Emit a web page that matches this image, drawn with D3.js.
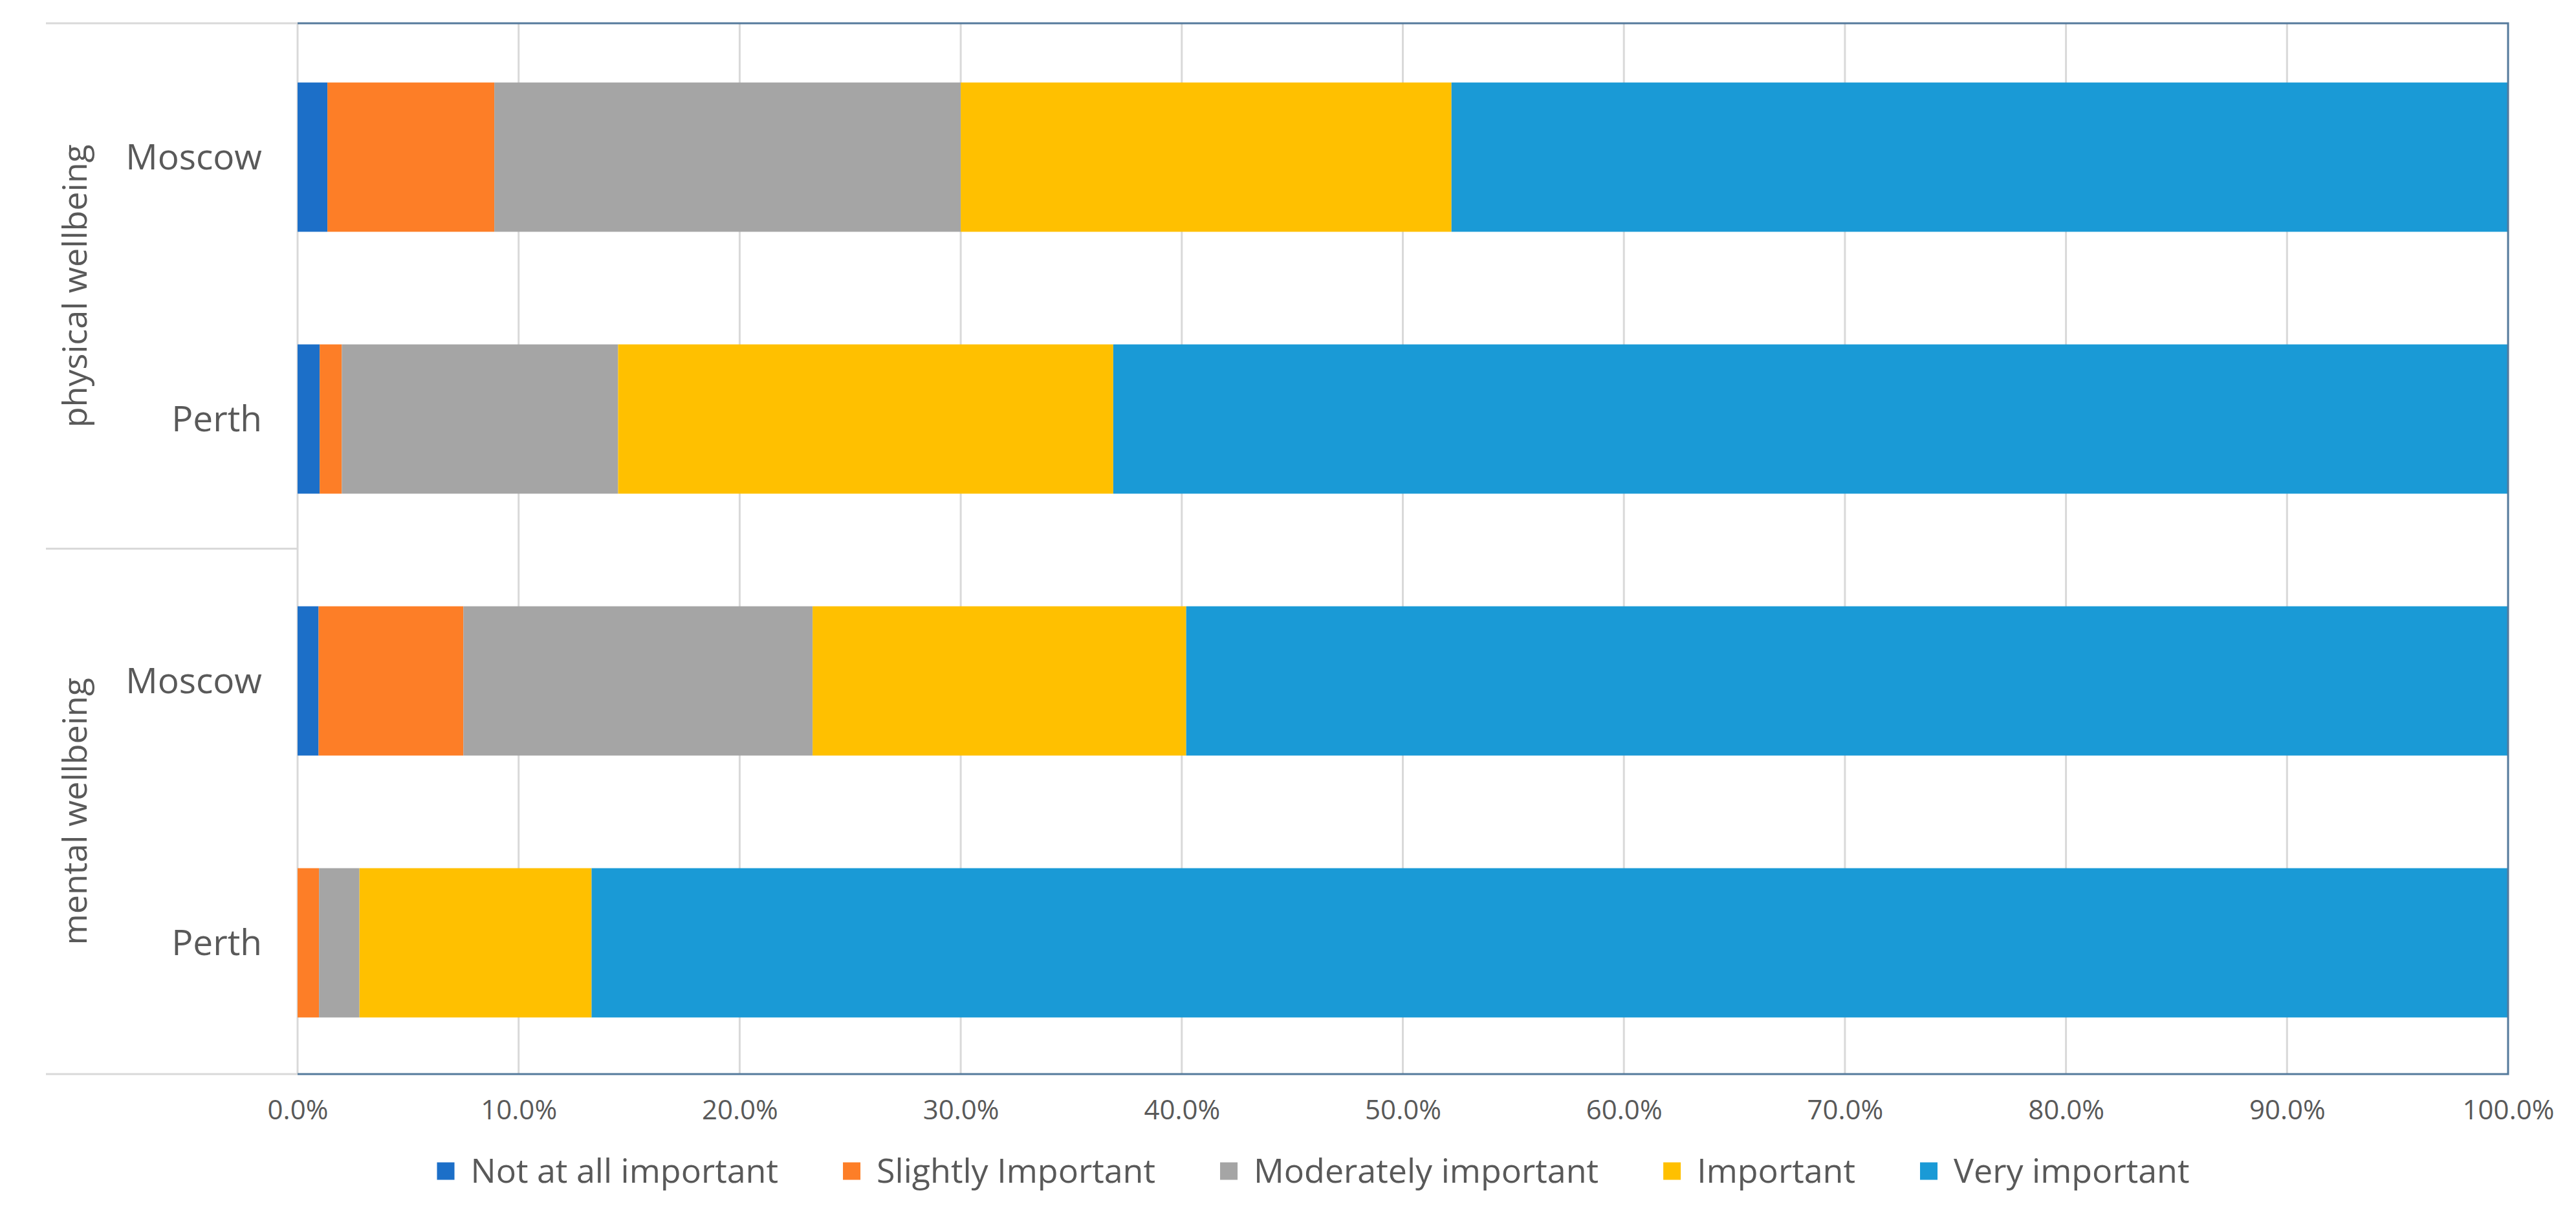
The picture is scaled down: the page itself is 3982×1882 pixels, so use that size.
<!DOCTYPE html>
<html>
<head>
<meta charset="utf-8">
<script src="https://cdn.jsdelivr.net/npm/d3@7"></script>
<style>
  body { margin: 0; background: #fff; }
  svg { display: block; }
  text { font-family: "Open Sans", "Noto Sans", sans-serif; fill: #595959; }
</style>
</head>
<body>
<script>
// stacked 100% bars, two groups x two cities

const groups = ['physical wellbeing', 'mental wellbeing'];
const cities = ['Moscow', 'Perth'];
const levels = ['Not at all important', 'Slightly Important', 'Moderately important', 'Important', 'Very important'];
const levelColors = ['#1c6fc8', '#fd7e27', '#a5a5a5', '#ffc000', '#1a9ad6'];
const xTickValues = [0, 0.1, 0.2, 0.3, 0.4, 0.5, 0.6, 0.7, 0.8, 0.9, 1.0];

// shares in % per row, order: physical Moscow, physical Perth, mental Moscow, mental Perth
const notAtAll   = [1.35, 1.0, 0.95, 0.0];
const slightly   = [7.55, 1.0, 6.55, 0.97];
const moderately = [21.1, 12.5, 15.8, 1.83];
const important  = [22.2, 22.4, 16.9, 10.5];
const veryImp    = [47.8, 63.1, 59.8, 86.7];

const rows = [];
groups.forEach((g, gi) => cities.forEach((c, ci) => {
  const i = gi * cities.length + ci;
  rows.push({
    key: g + '|' + c, group: g, city: c,
    [levels[0]]: notAtAll[i] / 100,
    [levels[1]]: slightly[i] / 100,
    [levels[2]]: moderately[i] / 100,
    [levels[3]]: important[i] / 100,
    [levels[4]]: veryImp[i] / 100
  });
}));

const svgWidth = 3982, svgHeight = 1882;
const plotLeft = 460, plotRight = 3877, plotTop = 36, plotBottom = 1661;
const catLeft = 71;

const svg = d3.select('body').append('svg')
  .attr('width', svgWidth)
  .attr('height', svgHeight);

const xScale = d3.scaleLinear().domain([0, 1]).range([plotLeft, plotRight]);
const yScale = d3.scaleBand()
  .domain(rows.map(d => d.key))
  .range([40.5, 1660.5])
  .paddingInner(0.43)
  .paddingOuter(0.215);
const color = d3.scaleOrdinal().domain(levels).range(levelColors);

// gridlines
svg.append('g')
  .selectAll('line')
  .data(xTickValues.slice(1, -1))
  .enter()
  .append('line')
  .attr('x1', d => xScale(d)).attr('x2', d => xScale(d))
  .attr('y1', plotTop).attr('y2', plotBottom)
  .attr('stroke', '#d9d9d9')
  .attr('stroke-width', 3);

// left edge of plot + category separators
svg.append('line')
  .attr('x1', plotLeft).attr('x2', plotLeft).attr('y1', plotTop).attr('y2', plotBottom)
  .attr('stroke', '#d9d9d9').attr('stroke-width', 3);

const groupBounds = [plotTop, (plotTop + plotBottom) / 2, plotBottom];
svg.append('g')
  .selectAll('line')
  .data(groupBounds)
  .enter()
  .append('line')
  .attr('x1', catLeft).attr('x2', plotLeft)
  .attr('y1', d => d).attr('y2', d => d)
  .attr('stroke', '#d9d9d9')
  .attr('stroke-width', 3);

// bars
const stacked = d3.stack().keys(levels)(rows);
svg.append('g')
  .selectAll('g')
  .data(stacked)
  .enter()
  .append('g')
  .attr('fill', d => color(d.key))
  .selectAll('rect')
  .data(d => d)
  .enter()
  .append('rect')
  .attr('x', d => xScale(d[0]))
  .attr('width', d => xScale(d[1]) - xScale(d[0]))
  .attr('y', d => yScale(d.data.key))
  .attr('height', yScale.bandwidth());

// frame: top, right, bottom in blue-grey
svg.append('path')
  .attr('d', `M${plotLeft},${plotTop}H${plotRight}V${plotBottom}H${plotLeft}`)
  .attr('fill', 'none')
  .attr('stroke', '#557a9c')
  .attr('stroke-width', 3);

// x axis
const xAxis = d3.axisBottom(xScale)
  .tickValues(xTickValues)
  .tickFormat(d3.format('.1%'))
  .tickSize(0)
  .tickPadding(40);
const gx = svg.append('g')
  .attr('transform', `translate(0,${plotBottom})`)
  .call(xAxis);
gx.select('.domain').remove();
gx.selectAll('text')
  .attr('font-family', '"Liberation Sans Narrow", "DejaVu Sans Condensed", "Open Sans", sans-serif')
  .attr('font-size', 42)
  .attr('fill', '#595959');

// city labels
svg.append('g')
  .selectAll('text')
  .data(rows)
  .enter()
  .append('text')
  .attr('x', 405)
  .attr('y', d => yScale(d.key) + yScale.bandwidth() / 2)
  .attr('dy', '0.35em')
  .attr('text-anchor', 'end')
  .attr('font-size', 55)
  .text(d => d.city);

// group labels (rotated)
svg.append('g')
  .selectAll('text')
  .data(groups)
  .enter()
  .append('text')
  .attr('transform', (d, i) => `translate(116,${(groupBounds[i] + groupBounds[i + 1]) / 2}) rotate(-90)`)
  .attr('dy', '0.35em')
  .attr('text-anchor', 'middle')
  .attr('font-size', 52)
  .text(d => d);

// legend
const legend = svg.append('g').attr('transform', 'translate(0,1811)');
const items = legend.selectAll('g')
  .data(levels)
  .enter()
  .append('g');
items.append('rect')
  .attr('width', 27).attr('height', 27)
  .attr('y', -13.5)
  .attr('fill', d => color(d));
items.append('text')
  .attr('x', 52)
  .attr('dy', '0.35em')
  .attr('font-size', 52)
  .text(d => d);

let cursor = 0;
const offsets = [];
items.each(function () {
  offsets.push(cursor);
  cursor += 52 + d3.select(this).select('text').node().getComputedTextLength() + 100;
});
const legendWidth = cursor - 100;
const legendStart = 2030 - legendWidth / 2;
items.attr('transform', (d, i) => `translate(${legendStart + offsets[i]},0)`);
</script>
</body>
</html>
